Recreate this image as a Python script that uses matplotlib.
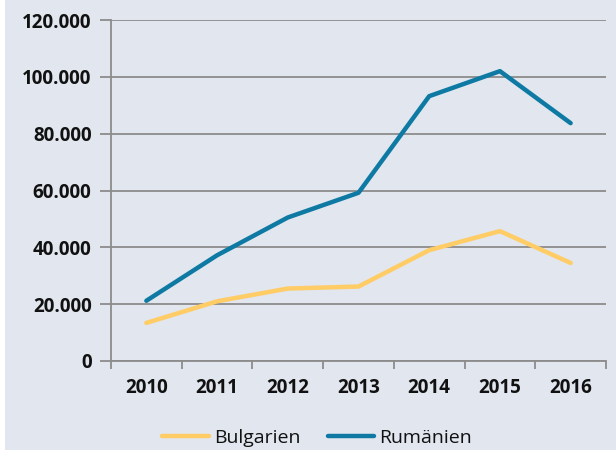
import matplotlib
matplotlib.use("Agg")
import matplotlib.pyplot as plt
from matplotlib.patches import Rectangle
from matplotlib.ticker import FuncFormatter

years = ["2010", "2011", "2012", "2013", "2014", "2015", "2016"]
bulgarien = [13400, 21000, 25500, 26200, 39000, 45700, 34500]
rumaenien = [21200, 37200, 50500, 59200, 93200, 102000, 83700]

bg = "#e1e6ef"
plt.rcParams['font.family'] = ['Open Sans', 'DejaVu Sans']

fig = plt.figure(figsize=(6.16, 4.5), dpi=100, facecolor=bg)
fig.patches.append(Rectangle((0, 0), 5/616, 1, transform=fig.transFigure,
                             facecolor="white", edgecolor="none", zorder=0))
ax = fig.add_axes([111/616, 89/450, 495/616, 341/450])
ax.set_facecolor(bg)

x = list(range(len(years)))
ax.plot(x, bulgarien, color="#ffcc66", lw=3.2, solid_capstyle="round", label="Bulgarien", zorder=3)
ax.plot(x, rumaenien, color="#0e7aa3", lw=3.2, solid_capstyle="round", label="Rumänien", zorder=3)

ax.set_xlim(-0.5, len(years) - 0.5)
ax.set_ylim(0, 120000)
ax.set_yticks(range(0, 120001, 20000))
ax.yaxis.set_major_formatter(FuncFormatter(lambda v, p: f"{int(v):,}".replace(",", ".")))
ax.set_xticks([i - 0.5 for i in range(len(years) + 1)])
ax.set_xticklabels([])
ax.set_xticks(x, minor=True)
ax.set_xticklabels(years, minor=True)
ax.tick_params(axis="x", which="minor", length=0, pad=12, labelsize=13.5)
ax.tick_params(axis="x", which="major", length=6, width=1.3, color="#8c8c8c", direction="out")
ax.tick_params(axis="y", length=8, width=1.3, color="#8c8c8c", pad=6, labelsize=13.5)
for lab in ax.get_xticklabels(minor=True) + ax.get_yticklabels():
    lab.set_fontweight("bold")
    lab.set_color("#111111")

ax.grid(axis="y", color="#8c8c8c", lw=1.3)
ax.set_axisbelow(True)
for s in ["top", "right"]:
    ax.spines[s].set_visible(False)
for s in ["left", "bottom"]:
    ax.spines[s].set_color("#8c8c8c")
    ax.spines[s].set_linewidth(1.3)

leg = fig.legend(loc="center", bbox_to_anchor=(0.515, 12/450), ncol=2, frameon=False,
                 fontsize=14, handlelength=2.4, handletextpad=0.25, columnspacing=1.4)
for t in leg.get_texts():
    t.set_color("#111111")

fig.savefig("out.png", dpi=100, facecolor=bg)
